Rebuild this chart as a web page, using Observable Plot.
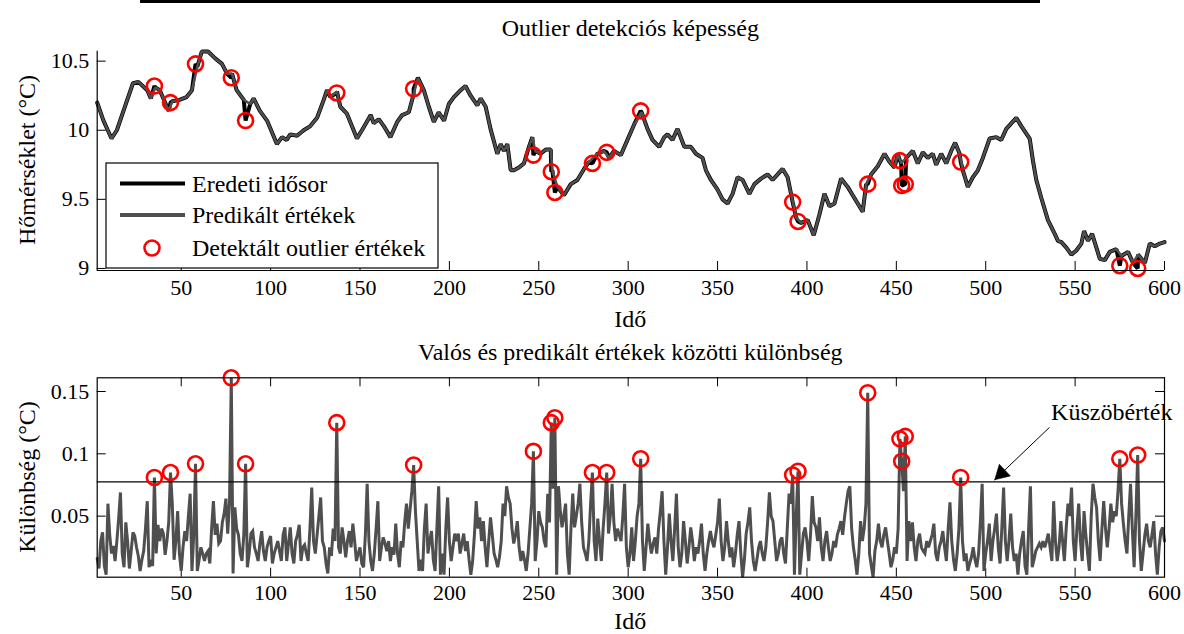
<!DOCTYPE html>
<html><head><meta charset="utf-8">
<script src="https://cdn.jsdelivr.net/npm/d3@7"></script>
<script src="https://cdn.jsdelivr.net/npm/@observablehq/plot@0.6"></script>
<style>
body{margin:0;background:#fff;}
#wrap{position:relative;width:1184px;height:634px;font-family:"Liberation Serif","Times New Roman",serif;color:#000;overflow:hidden;background:#fff}
#wrap svg, #wrap svg text{font-family:"Liberation Serif","Times New Roman",serif !important}
.abs{position:absolute;white-space:nowrap;line-height:1}
.ctr{text-align:center}
.rot{transform:translate(-50%,-50%) rotate(-90deg)}
</style></head><body><div id="wrap"></div>
<script>
// ---------- data ----------
const xTicks = [50,100,150,200,250,300,350,400,450,500,550,600];
const tempTicks = [9, 9.5, 10, 10.5];
const diffTicks = [0.05, 0.1, 0.15];
const xDomain = [3, 600];
const tempDomain = [8.985, 10.572];
const diffDomain = [0.001, 0.161];
const threshold = 0.0775;

// predicted temperature (grey line), vertices
const predT = [3,6.5,11,14,17.7,23,26,31,33,35.5,38,43,45,49,53,56,59,61.5,65,69,72.8,75.6,78.4,81,85,88.6,90.5,94,98,103.5,106.4,109,111,114.8,118.5,122.2,126,129.7,131.5,133.4,137.1,139,142.7,148.3,152,156,157.7,160.5,163.3,167,170.8,173.6,177.3,180,182.4,185.7,188.5,191.3,194,197,199.7,202.5,206.3,209,211.9,215.6,217.5,220.3,223,226.8,228.7,230.5,232.4,234.3,236.1,238.9,241.7,244.5,246.4,248,251,253.9,256.7,257.6,260.4,264.1,267.9,271.6,275.3,278,282.8,286.5,289.3,292.1,295.9,299.6,303.3,307.5,310.8,313.6,317.4,320.2,322,324.8,327.6,331.4,335.1,337.9,341.6,343.5,346.3,350,352.8,355.6,358.4,361.2,364,367.8,370.6,374.3,378,380.8,383.6,386.4,389.2,391.1,393.9,396.7,400.4,403.8,407,409.8,412.6,415.4,419.1,422.8,425.6,428.4,431.2,433.1,435.9,439.6,443.4,446.2,449,450.8,452.7,455.5,459.2,462,464.8,467.6,470.4,472.3,475.1,477.9,480.7,482.9,485.4,487.2,490,492.8,495.6,498.4,502.2,505.9,508.7,511.5,514.3,517.1,519.9,524.6,526.4,528.3,531.1,534.8,538.6,540.4,542.3,545.1,547.9,550.7,553.5,555,557.2,559.5,561.9,563.8,566.6,569.4,573.1,575.9,579.6,582.4,585.2,589,591.8,594.6,597.4,600];
const predV = [10.20,10.07,9.94,10.00,10.14,10.34,10.35,10.29,10.23,10.31,10.29,10.14,10.21,10.22,10.24,10.29,10.46,10.57,10.57,10.52,10.48,10.41,10.41,10.29,10.22,10.19,10.23,10.14,10.07,9.90,9.95,9.93,9.97,9.96,10.00,10.03,10.09,10.22,10.29,10.24,10.28,10.17,10.12,9.94,10.02,10.11,10.05,10.08,10.03,9.95,10.06,10.11,10.13,10.26,10.38,10.29,10.17,10.06,10.13,10.07,10.19,10.24,10.29,10.32,10.25,10.18,10.23,10.17,10.01,9.83,9.90,9.85,9.90,9.71,9.71,9.73,9.76,9.88,9.95,9.85,9.83,9.86,9.86,9.71,9.59,9.53,9.61,9.64,9.72,9.77,9.83,9.85,9.80,9.85,9.82,9.93,10.04,10.13,10.01,9.93,9.88,9.95,9.97,9.93,10.01,9.88,9.88,9.83,9.80,9.71,9.64,9.57,9.50,9.47,9.54,9.66,9.64,9.54,9.61,9.65,9.68,9.64,9.68,9.72,9.66,9.54,9.37,9.33,9.35,9.24,9.39,9.54,9.45,9.47,9.65,9.59,9.53,9.47,9.41,9.61,9.68,9.74,9.83,9.77,9.73,9.83,9.76,9.80,9.85,9.76,9.84,9.80,9.83,9.75,9.83,9.76,9.85,9.91,9.83,9.71,9.59,9.66,9.71,9.80,9.94,9.95,9.93,10.01,10.05,10.09,10.03,9.94,9.78,9.64,9.51,9.35,9.25,9.20,9.19,9.15,9.10,9.13,9.18,9.27,9.20,9.25,9.15,9.07,9.06,9.12,9.14,9.09,9.12,9.04,9.10,9.04,9.18,9.16,9.18,9.19];

// detected outliers: time and original temperature value
const outlierT = [35,44,58,78,86,137,180,247,257,259,280,288,307,392,395,434,452,453,455,486,575,585];
const outlierTemp = [10.32,10.20,10.48,10.38,10.07,10.27,10.30,9.82,9.70,9.55,9.76,9.84,10.14,9.48,9.34,9.61,9.78,9.60,9.61,9.77,9.02,9.00];

// |original - predicted|, one value per time step, t = 3 .. 600
const diffStart = 3;
const diffV = [
.016,.008,.030,.037,.010,.003,.060,.035,.020,.026,
.014,.030,.048,.069,.020,.009,.045,.030,.008,.022,
.037,.034,.025,.018,.006,.015,.022,.040,.062,.009,
.015,.010,.081,.020,.043,.030,.040,.036,.019,.030,
.045,.085,.060,.015,.030,.054,.020,.006,.025,.038,
.030,.050,.068,.006,.035,.092,.006,.015,.025,.020,
.014,.020,.022,.012,.040,.062,.035,.044,.028,.030,
.045,.052,.064,.036,.060,.161,.004,.057,.040,.035,
.020,.014,.035,.092,.009,.020,.036,.038,.025,.020,
.014,.028,.038,.022,.014,.025,.030,.034,.012,.020,
.025,.030,.022,.014,.035,.041,.014,.028,.041,.020,
.012,.030,.035,.043,.014,.025,.027,.020,.014,.040,
.073,.030,.020,.035,.050,.065,.030,.025,.012,.004,
.025,.018,.040,.030,.125,.025,.020,.041,.030,.017,
.030,.038,.025,.044,.030,.014,.020,.025,.012,.009,
.035,.076,.030,.014,.006,.020,.040,.062,.014,.025,
.033,.028,.022,.030,.014,.025,.019,.044,.020,.009,
.030,.025,.045,.060,.040,.055,.070,.091,.054,.030,
.006,.015,.006,.040,.060,.020,.030,.038,.015,.006,
.040,.074,.003,.020,.003,.040,.065,.030,.014,.025,
.036,.030,.036,.020,.028,.036,.022,.030,.015,.003,
.014,.035,.062,.040,.049,.030,.046,.025,.009,.030,
.049,.035,.020,.015,.009,.017,.030,.060,.050,.074,
.065,.060,.040,.028,.035,.046,.025,.014,.022,.015,
.006,.020,.040,.060,.102,.014,.030,.054,.045,.041,
.030,.025,.068,.045,.125,.072,.129,.003,.074,.055,
.041,.050,.060,.020,.003,.040,.068,.041,.050,.060,
.076,.045,.025,.020,.014,.030,.060,.085,.030,.014,
.048,.030,.014,.040,.060,.085,.036,.050,.076,.045,
.030,.040,.035,.030,.050,.076,.025,.009,.020,.041,
.014,.030,.050,.060,.096,.030,.006,.025,.044,.030,
.020,.028,.033,.020,.040,.054,.070,.030,.003,.025,
.052,.030,.014,.040,.068,.025,.009,.020,.046,.030,
.012,.025,.041,.030,.014,.025,.020,.030,.044,.020,
.006,.020,.030,.038,.030,.025,.035,.045,.064,.030,
.014,.025,.046,.030,.017,.025,.009,.020,.035,.046,
.020,.001,.015,.036,.045,.057,.030,.014,.006,.015,
.025,.030,.020,.014,.025,.045,.069,.050,.046,.030,
.014,.020,.030,.033,.020,.012,.040,.068,.060,.083,
.003,.050,.086,.003,.020,.036,.041,.030,.014,.035,
.066,.045,.041,.030,.049,.025,.014,.030,.038,.025,
.014,.020,.030,.025,.035,.040,.046,.035,.049,.060,
.070,.074,.040,.025,.015,.003,.020,.046,.030,.040,
.060,.149,.020,.010,.001,.022,.030,.044,.030,.025,
.035,.041,.030,.020,.009,.015,.025,.020,.040,.112,
.094,.070,.114,.014,.046,.030,.045,.025,.014,.030,
.036,.025,.022,.020,.030,.025,.030,.035,.044,.020,
.014,.025,.030,.038,.025,.014,.040,.061,.030,.015,
.006,.020,.040,.081,.030,.014,.020,.006,.012,.017,
.025,.015,.009,.020,.045,.076,.006,.020,.030,.044,
.014,.030,.040,.052,.025,.012,.040,.073,.030,.014,
.030,.052,.025,.014,.020,.003,.020,.030,.038,.010,
.003,.040,.074,.009,.015,.022,.025,.028,.025,.030,
.025,.030,.036,.025,.014,.062,.030,.014,.025,.046,
.030,.014,.040,.060,.050,.073,.030,.014,.040,.060,
.030,.014,.054,.035,.020,.006,.050,.076,.065,.057,
.030,.014,.040,.062,.040,.025,.040,.060,.045,.054,
.050,.070,.096,.060,.044,.030,.020,.050,.076,.040,
.009,.050,.099,.030,.006,.020,.035,.044,.030,.025,
.035,.046,.020,.003,.025,.038,.041,.030];

// annotation: label position and arrow (from -> to), in data units
const noteLabel = ["Küszöbérték"];
const noteAt = [570.5, 0.1335];
const arrowFrom = [535.5, 0.121];
const arrowTo = [505, 0.0792];

const legendItems = ["Eredeti idősor", "Predikált értékek", "Detektált outlier értékek"];

// ---------- derived tables ----------
const pred = predT.map((t, i) => ({t, v: predV[i]}));
const outliers = outlierT.map((t, i) => ({t, v: outlierTemp[i]}));
const orig = [...pred, ...outliers].sort((a, b) => a.t - b.t);
const diff = diffV.map((v, i) => ({t: diffStart + i, v}));
const diffOut = diff.filter(d => d.v > threshold);

// ---------- layout ----------
const W = 1184, ML = 96.7, MR = 20;
const innerW = W - ML - MR;
const FONT = '"Liberation Serif","Times New Roman",serif';
const FS = 22;   // tick labels
const LS = 24;   // titles, axis labels, legend
const GREY = "#4f4f4f";

const wrap = document.getElementById("wrap");
function addDiv(text, css, cls = "abs") {
  const d = document.createElement("div");
  d.className = cls; d.textContent = text;
  Object.assign(d.style, css);
  wrap.appendChild(d); return d;
}
function place(svg, y) {
  svg.style.position = "absolute"; svg.style.left = "0px"; svg.style.top = y + "px";
  wrap.appendChild(svg);
}

// ---------- top plot ----------
const topH = 316, topMT = 50.7, topMB = 46;
const topInnerH = topH - topMT - topMB;
const topPlot = Plot.plot({
  width: W, height: topH,
  marginLeft: ML, marginRight: MR, marginTop: topMT, marginBottom: topMB,
  style: {fontFamily: FONT, fontSize: FS + "px", color: "black", background: "transparent", overflow: "visible"},
  x: {domain: xDomain, ticks: xTicks, tickSize: 0, tickPadding: 9, label: null, tickFormat: d => String(d)},
  y: {domain: tempDomain, ticks: tempTicks, tickSize: 0, tickPadding: 8, label: null, tickFormat: d => String(d)},
  marks: [
    Plot.ruleX(xTicks, {stroke: "black", strokeWidth: 1, insetTop: topInnerH - 9}),
    Plot.ruleY(tempTicks, {stroke: "black", strokeWidth: 1, insetRight: innerW - 9}),
    Plot.line(orig, {x: "t", y: "v", stroke: "black", strokeWidth: 4, strokeLinejoin: "miter"}),
    Plot.line(pred, {x: "t", y: "v", stroke: GREY, strokeWidth: 2.6, strokeLinejoin: "miter"}),
    Plot.dot(outliers, {x: "t", y: "v", r: 7.5, stroke: "#ff0000", strokeWidth: 2.6, fill: "none"}),
    Plot.ruleX([xDomain[0]], {stroke: "black", strokeWidth: 1.2}),
    Plot.ruleY([tempDomain[0]], {stroke: "black", strokeWidth: 1.2})
  ]
});
place(topPlot, 0);

// ---------- bottom plot ----------
const botTop = 316, botH = 318, botMT = 61.3, botMB = 57.3;
const botInnerH = botH - botMT - botMB;
const bottomPlot = Plot.plot({
  width: W, height: botH,
  marginLeft: ML, marginRight: MR, marginTop: botMT, marginBottom: botMB,
  style: {fontFamily: FONT, fontSize: FS + "px", color: "black", background: "transparent", overflow: "visible"},
  x: {domain: xDomain, ticks: xTicks, tickSize: 0, tickPadding: 7, label: null, tickFormat: d => String(d)},
  y: {domain: diffDomain, ticks: diffTicks, tickSize: 0, tickPadding: 8, label: null, tickFormat: d => String(d)},
  marks: [
    Plot.ruleX(xTicks, {stroke: "black", strokeWidth: 1, insetTop: botInnerH - 9}),
    Plot.ruleX(xTicks, {stroke: "black", strokeWidth: 1, insetBottom: botInnerH - 9}),
    Plot.ruleY(diffTicks, {stroke: "black", strokeWidth: 1, insetRight: innerW - 9}),
    Plot.ruleY(diffTicks, {stroke: "black", strokeWidth: 1, insetLeft: innerW - 9}),
    Plot.line(diff, {x: "t", y: "v", stroke: GREY, strokeWidth: 3, strokeLinejoin: "miter", strokeMiterlimit: 3}),
    Plot.ruleY([threshold], {stroke: "black", strokeWidth: 1.1}),
    Plot.dot(diffOut, {x: "t", y: "v", r: 7.5, stroke: "#ff0000", strokeWidth: 2.6, fill: "none"}),
    Plot.arrow([{x1: arrowFrom[0], y1: arrowFrom[1], x2: arrowTo[0], y2: arrowTo[1]}],
      {x1: "x1", y1: "y1", x2: "x2", y2: "y2", stroke: "black", strokeWidth: 1, headLength: 0}),
    Plot.dot([{x: arrowTo[0], y: arrowTo[1]}], {x: "x", y: "y", symbol: "triangle", r: 6, fill: "black", stroke: "black", strokeWidth: 0.5, rotate: 226.6, dx: 6.8, dy: -6.4}),
    Plot.text(noteLabel, {x: () => noteAt[0], y: () => noteAt[1], text: d => d, fontSize: LS, fill: "black"}),
    Plot.frame({stroke: "black", strokeWidth: 1.2})
  ]
});
place(bottomPlot, botTop);

// ---------- titles & labels ----------
addDiv("", {left: "140px", top: "0px", width: "900px", height: "3px", background: "black"});
const plotCss = (y) => ({left: ML + "px", width: innerW + "px", top: (y - LS / 2) + "px", fontSize: LS + "px"});
addDiv("Outlier detekciós képesség", plotCss(28), "abs ctr");
addDiv("Idő", plotCss(319), "abs ctr");
addDiv("Valós és predikált értékek közötti különbség", plotCss(352), "abs ctr");
addDiv("Idő", plotCss(621), "abs ctr");
addDiv("Hőmérséklet (°C)", {left: "27px", top: "160px", fontSize: LS + "px"}, "abs rot");
addDiv("Különbség (°C)", {left: "27px", top: "477px", fontSize: LS + "px"}, "abs rot");

// ---------- legend ----------
const lg = d3.create("svg").attr("width", 334).attr("height", 107)
  .style("position", "absolute").style("left", "105px").style("top", "162px")
  .style("font-family", FONT).style("font-size", LS + "px");
lg.append("rect").attr("x", 1).attr("y", 1).attr("width", 332).attr("height", 105)
  .attr("fill", "white").attr("stroke", "black").attr("stroke-width", 1.2);
const rowY = [21.5, 53, 86];
lg.append("line").attr("x1", 15).attr("x2", 80).attr("y1", rowY[0]).attr("y2", rowY[0]).attr("stroke", "black").attr("stroke-width", 4);
lg.append("line").attr("x1", 15).attr("x2", 80).attr("y1", rowY[1]).attr("y2", rowY[1]).attr("stroke", GREY).attr("stroke-width", 4);
lg.append("circle").attr("cx", 47).attr("cy", rowY[2]).attr("r", 7.5).attr("fill", "none").attr("stroke", "#ff0000").attr("stroke-width", 2.6);
legendItems.forEach((s, i) => {
  lg.append("text").attr("x", 87).attr("y", rowY[i]).attr("dy", "0.35em").text(s);
});
wrap.appendChild(lg.node());
</script></body></html>
